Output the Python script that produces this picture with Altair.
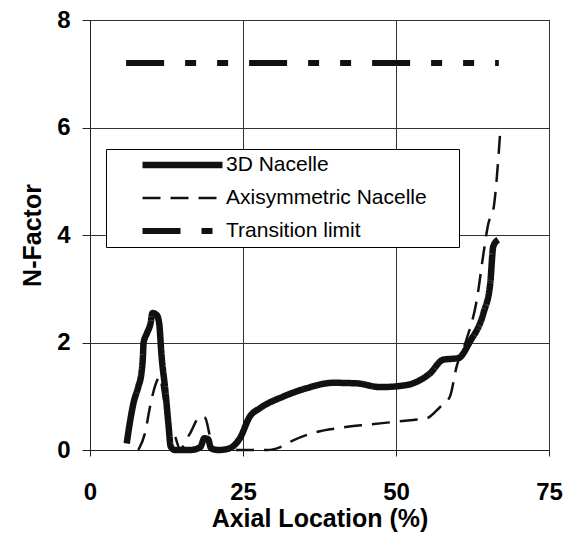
import altair as alt
import pandas as pd

# ---- data ----
series_names = ["3D Nacelle", "Axisymmetric Nacelle", "Transition limit"]

nacelle3d_x = [6.0, 6.5, 7.1, 7.9, 8.4, 8.65, 8.75, 9.3, 9.9, 10.2, 10.9, 11.3, 11.7, 12.3, 12.8,
               13.2, 13.9, 16.3, 18.0, 18.7, 19.3, 19.8, 21.0, 22.5, 23.5, 24.5, 26.1, 27.8,
               31.5, 35.4, 39.7, 43.6, 47.4, 51.8, 53.4, 55.5, 57.7, 60.2, 62.1, 64.3, 65.4,
               65.9, 66.7]
nacelle3d_y = [0.12, 0.5, 0.87, 1.18, 1.43, 1.74, 1.99, 2.17, 2.36, 2.55, 2.51, 2.36, 1.74, 1.12, 0.5,
               0.06, 0.0, 0.0, 0.05, 0.22, 0.2, 0.03, 0.0, 0.02, 0.08, 0.22, 0.62, 0.78,
               0.99, 1.15, 1.25, 1.24, 1.17, 1.21, 1.27, 1.42, 1.68, 1.71, 2.02, 2.55, 3.1,
               3.79, 3.91]

axisym_x = [7.9, 9.0, 9.8, 10.6, 11.4, 12.0, 12.7, 13.9, 14.7, 16.3, 18.0, 18.8, 19.6, 20.1,
            23.0, 26.0, 29.0, 31.0, 33.2, 36.5, 40.8, 45.2, 49.5, 52.8, 55.0, 57.2, 58.8,
            59.9, 61.5, 63.2, 64.3, 65.1, 65.9, 67.0]
axisym_y = [0.0, 0.32, 0.8, 1.18, 1.36, 1.0, 0.5, 0.25, 0.02, 0.3, 0.62, 0.6, 0.25, 0.02,
            0.0, 0.0, 0.0, 0.05, 0.18, 0.32, 0.41, 0.47, 0.52, 0.56, 0.59, 0.8, 0.99,
            1.55, 2.05, 2.79, 3.66, 4.22, 4.47, 5.87]

limit_x = [5.9, 66.8]
limit_y = [7.2, 7.2]

x_ticks = [0, 25, 50, 75]
y_ticks = [0, 2, 4, 6, 8]

rows = []
for name, xs, ys in zip(series_names,
                        [nacelle3d_x, axisym_x, limit_x],
                        [nacelle3d_y, axisym_y, limit_y]):
    for k, (xv, yv) in enumerate(zip(xs, ys)):
        rows.append({"series": name, "x": xv, "y": yv, "order": k})
df = pd.DataFrame(rows)

FONT = "Liberation Sans"
INK = "#111111"

legend = alt.Legend(
    title="M", titleOrient="right", titleOpacity=0, titleFontSize=12, titlePadding=16,
    orient="none", legendX=16, legendY=129,
    symbolType="stroke", symbolSize=6400, clipHeight=20, rowPadding=12,
    padding=6, symbolOffset=27, labelOffset=0, labelLimit=400,
    labelFont=FONT, labelFontSize=21, labelColor="black",
    strokeColor="black", fillColor="white",
)

chart = alt.Chart(df).mark_line(
    interpolate="monotone", strokeJoin="round", strokeCap="butt"
).encode(
    x=alt.X("x:Q", scale=alt.Scale(domain=[0, 75], nice=False),
            axis=alt.Axis(values=x_ticks, title="Axial Location (%)",
                          tickSize=6, labelPadding=24, labelFlush=False, labelOverlap=False,
                          titleX=229.5, titleY=68, titleBaseline="middle", titleAlign="center")),
    y=alt.Y("y:Q", scale=alt.Scale(domain=[0, 8], nice=False),
            axis=alt.Axis(values=y_ticks, title="N-Factor",
                          tickSize=8, labelPadding=12, labelFlush=False, labelOverlap=False,
                          titleAngle=270, titleX=-58, titleY=215,
                          titleBaseline="middle", titleAlign="center")),
    color=alt.Color("series:N", scale=alt.Scale(domain=series_names, range=[INK, INK, INK]),
                    legend=legend),
    strokeDash=alt.StrokeDash("series:N", scale=alt.Scale(domain=series_names,
                              range=[[1, 0], [18, 10], [38, 21, 11, 21, 11, 21]]),
                              legend=legend),
    strokeWidth=alt.StrokeWidth("series:N", scale=alt.Scale(type="ordinal", domain=series_names,
                                range=[6.5, 2.5, 6]), legend=legend),
    order="order:Q",
).properties(
    width=459, height=430,
    autosize=alt.AutoSizeParams(type="none"),
    padding={"left": 90, "top": 20, "right": 16, "bottom": 85},
    background="white",
).configure_axis(
    grid=True, gridColor="#333333", gridWidth=1, gridOpacity=1,
    domainColor="#222222", domainWidth=1, tickColor="#222222", tickWidth=1,
    labelFont=FONT, labelFontSize=24, labelFontWeight="bold", labelColor="black",
    titleFont=FONT, titleFontSize=25, titleFontWeight="bold", titleColor="black",
).configure_view(stroke="#333333", strokeWidth=1)

chart.save("out.html", embed_options={"renderer": "svg", "actions": False})
